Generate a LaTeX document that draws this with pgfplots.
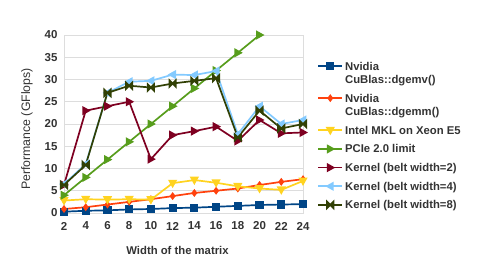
\documentclass[border=0pt]{standalone}
\usepackage{fontspec}
\setmainfont{Liberation Sans}
\usepackage{pgfplots}
\pgfplotsset{compat=1.18}
\definecolor{c1}{HTML}{004586}
\definecolor{c2}{HTML}{FF420E}
\definecolor{c3}{HTML}{FFD320}
\definecolor{c4}{HTML}{579D1C}
\definecolor{c5}{HTML}{7E0021}
\definecolor{c6}{HTML}{83CAFF}
\definecolor{c7}{HTML}{314004}
\definecolor{txt}{HTML}{333333}
\definecolor{gridc}{HTML}{DDDDDD}
\pgfdeclareplotmark{tright}{\pgfpathmoveto{\pgfqpoint{\pgfplotmarksize}{0pt}}\pgfpathlineto{\pgfqpoint{-0.8\pgfplotmarksize}{\pgfplotmarksize}}\pgfpathlineto{\pgfqpoint{-0.8\pgfplotmarksize}{-\pgfplotmarksize}}\pgfpathclose\pgfusepathqfillstroke}
\pgfdeclareplotmark{tleft}{\pgfpathmoveto{\pgfqpoint{-\pgfplotmarksize}{0pt}}\pgfpathlineto{\pgfqpoint{0.8\pgfplotmarksize}{\pgfplotmarksize}}\pgfpathlineto{\pgfqpoint{0.8\pgfplotmarksize}{-\pgfplotmarksize}}\pgfpathclose\pgfusepathqfillstroke}
\pgfdeclareplotmark{tdown}{\pgfpathmoveto{\pgfqpoint{0pt}{-\pgfplotmarksize}}\pgfpathlineto{\pgfqpoint{\pgfplotmarksize}{0.8\pgfplotmarksize}}\pgfpathlineto{\pgfqpoint{-\pgfplotmarksize}{0.8\pgfplotmarksize}}\pgfpathclose\pgfusepathqfillstroke}
\pgfdeclareplotmark{bowtie}{\pgfpathmoveto{\pgfqpoint{-\pgfplotmarksize}{-\pgfplotmarksize}}\pgfpathlineto{\pgfqpoint{-\pgfplotmarksize}{\pgfplotmarksize}}\pgfpathlineto{\pgfqpoint{\pgfplotmarksize}{-\pgfplotmarksize}}\pgfpathlineto{\pgfqpoint{\pgfplotmarksize}{\pgfplotmarksize}}\pgfpathclose\pgfusepathqfillstroke}
\newcommand{\two}[2]{\vbox{\hbox{\strut #1}\hbox{\strut #2}}}
\begin{document}
\begin{tikzpicture}
\useasboundingbox (0,0) rectangle (478pt,273pt);
\begin{axis}[
  at={(64pt,60pt)}, anchor=south west,
  scale only axis, width=239pt, height=178pt,
  xmin=2, xmax=24, ymin=0, ymax=40,
  xtick={2,4,...,24}, ytick={0,5,...,40},
  ymajorgrids, major grid style={gridc, line width=0.6pt},
  axis line style={gridc, line width=0.6pt},
  major tick length=0pt,
  tick label style={font=\bfseries\fontsize{11.5}{13}\selectfont, text=txt},
  xticklabel style={anchor=center, yshift=-13pt},
  yticklabel style={anchor=east, xshift=-3pt},
  /pgf/number format/assume math mode=true,
  xlabel={\bfseries Width of the matrix},
  ylabel={Performance (GFlops)},
  every axis x label/.style={at={(axis description cs:0.5,0)}, anchor=center, xshift=-6pt, yshift=-37pt, font=\fontsize{11.3}{13}\selectfont, text=txt},
  every axis y label/.style={at={(axis description cs:0,0.5)}, xshift=-37pt, yshift=-5pt, rotate=90, anchor=center, font=\fontsize{12.3}{13}\selectfont, text=txt},
  every axis plot/.append style={line width=1.7pt, mark size=3.2pt},
  legend style={at={(1.047,0.88)}, anchor=north west, draw=none, fill=none,
    font=\bfseries\fontsize{11.3}{13.5}\selectfont, text=txt,
    nodes={inner xsep=2pt, inner ysep=2pt},
    cells={anchor=base west}, row sep=3.7pt},
  legend image code/.code={\draw[mark repeat=2,mark phase=2, yshift=4pt] plot coordinates {(0pt,0pt) (12pt,0pt) (24pt,0pt)};},
]
\addplot[c1, mark=square*, legend image code/.code={\draw[mark repeat=2,mark phase=2, yshift=17.5pt] plot coordinates {(0pt,0pt) (12pt,0pt) (24pt,0pt)};}] coordinates {(2,0.3)(4,0.5)(6,0.6)(8,0.8)(10,0.9)(12,1.1)(14,1.2)(16,1.4)(18,1.6)(20,1.8)(22,1.9)(24,2.0)};
\addplot[c2, mark=diamond*, mark size=2.6pt, legend image code/.code={\draw[mark repeat=2,mark phase=2, yshift=17.5pt] plot coordinates {(0pt,0pt) (12pt,0pt) (24pt,0pt)};}] coordinates {(2,0.9)(4,1.3)(6,1.9)(8,2.5)(10,3.1)(12,3.8)(14,4.5)(16,5.0)(18,5.5)(20,6.3)(22,7.0)(24,7.6)};
\addplot[c3, mark=tdown] coordinates {(2,2.8)(4,3.1)(6,3.0)(8,3.1)(10,3.0)(12,6.7)(14,7.4)(16,6.8)(18,6.0)(20,5.5)(22,5.2)(24,7.2)};
\addplot[c4, mark=tright] coordinates {(2,4)(4,8)(6,12)(8,16)(10,20)(12,24)(14,28)(16,32)(18,36)(20,40)};
\addplot[c5, mark=tright] coordinates {(2,6.3)(4,23.0)(6,24.0)(8,25.0)(10,12.1)(12,17.5)(14,18.4)(16,19.4)(18,16.2)(20,20.9)(22,17.9)(24,18.1)};
\addplot[c6, mark=tleft] coordinates {(2,6.5)(4,11.0)(6,27.0)(8,29.5)(10,29.7)(12,31.1)(14,31.0)(16,31.9)(18,17.7)(20,24.0)(22,20.0)(24,20.9)};
\addplot[c7, mark=bowtie] coordinates {(2,6.3)(4,10.8)(6,27.0)(8,28.6)(10,28.2)(12,29.1)(14,29.7)(16,30.3)(18,17.0)(20,23.0)(22,19.0)(24,20.0)};
\legend{\two{Nvidia}{CuBlas::dgemv()}, \two{Nvidia}{CuBlas::dgemm()}, \strut Intel MKL on Xeon E5, \strut PCIe 2.0 limit, \strut Kernel (belt width=2), \strut Kernel (belt width=4), \strut Kernel (belt width=8)}
\end{axis}
\end{tikzpicture}
\end{document}
